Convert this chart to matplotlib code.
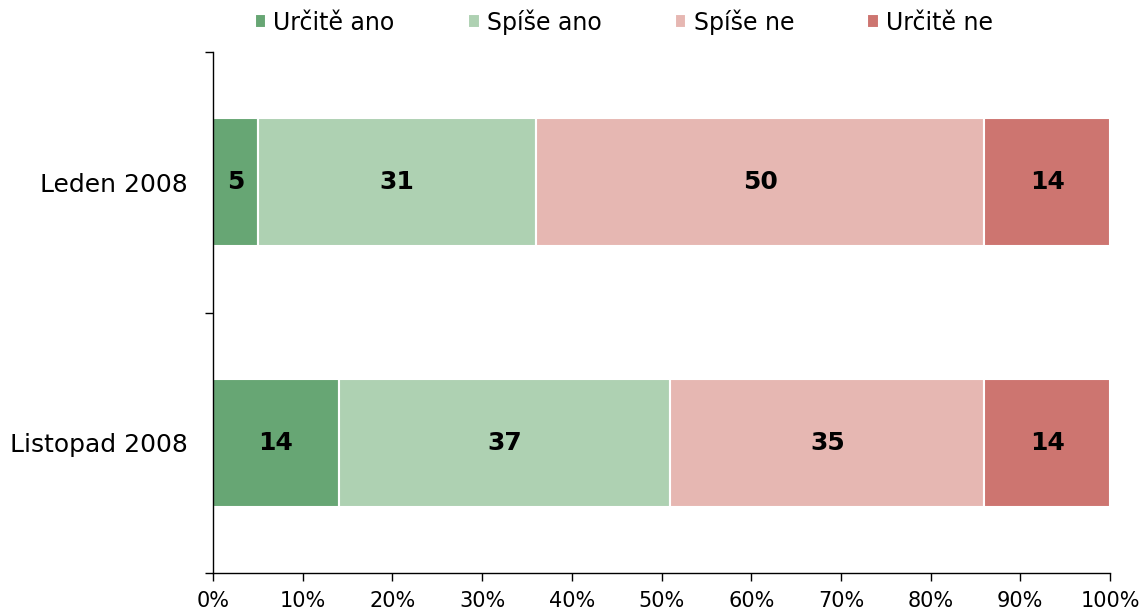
import matplotlib
matplotlib.use('Agg')
import matplotlib.pyplot as plt
from matplotlib.ticker import FixedLocator, PercentFormatter

# data
periods = ['Leden 2008', 'Listopad 2008']
answers = ['Určitě ano', 'Spíše ano', 'Spíše ne', 'Určitě ne']
values = {
    'Určitě ano': [5, 14],
    'Spíše ano': [31, 37],
    'Spíše ne': [50, 35],
    'Určitě ne': [14, 14],
}
colors = ['#67a674', '#aed1b2', '#e6b7b2', '#cd7570']

fig = plt.figure(figsize=(11.41, 6.14), dpi=100)
ax = fig.add_axes([213 / 1141, 1 - 573 / 614, (1110 - 213) / 1141, (573 - 52) / 614])

ypos = list(range(len(periods)))
left = [0] * len(periods)
for answer, color in zip(answers, colors):
    vals = values[answer]
    bars = ax.barh(ypos, vals, left=left, height=0.49, color=color,
                   edgecolor='white', linewidth=1.5, label=answer)
    for bar, v in zip(bars, vals):
        ax.text(bar.get_x() + bar.get_width() / 2, bar.get_y() + bar.get_height() / 2,
                f'{v}', ha='center', va='center', fontsize=18, fontweight='bold',
                color='black')
    left = [a + b for a, b in zip(left, vals)]

ax.set_xlim(0, 100)
ax.set_ylim(len(periods) - 0.5, -0.5)
ax.xaxis.set_major_locator(FixedLocator(range(0, 101, 10)))
ax.xaxis.set_major_formatter(PercentFormatter(decimals=0))
ax.set_yticks(ypos)
ax.set_yticklabels(periods)
ax.yaxis.set_minor_locator(FixedLocator([-0.5, 0.5, 1.5]))
ax.tick_params(axis='y', which='major', length=0, pad=18, labelsize=18)
ax.tick_params(axis='y', which='minor', length=6, width=1)
ax.tick_params(axis='x', length=6, width=1, labelsize=15, pad=7)
for side in ('top', 'right'):
    ax.spines[side].set_visible(False)
ax.spines['left'].set_linewidth(1)
ax.spines['bottom'].set_linewidth(1)

ax.legend(loc='center', bbox_to_anchor=(0.458, 1.058), ncol=4, frameon=False,
          fontsize=17, handlelength=0.5, handleheight=0.5, handletextpad=0.3,
          columnspacing=3.1)

fig.savefig('out.png', dpi=100)
